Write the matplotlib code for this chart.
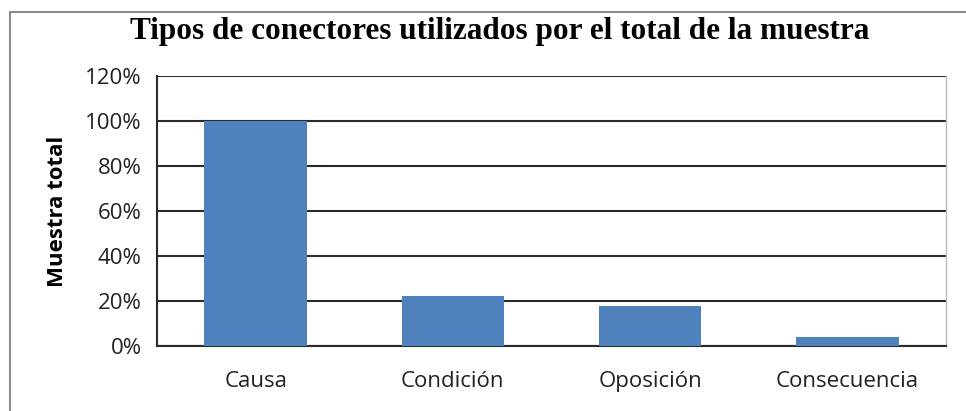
import matplotlib.pyplot as plt
from matplotlib.patches import Rectangle
from matplotlib.ticker import PercentFormatter

categorias = ['Causa', 'Condición', 'Oposición', 'Consecuencia']
porcentajes = [100, 22.3, 18.0, 4.2]
ticks_y = [0, 20, 40, 60, 80, 100, 120]

fig = plt.figure(figsize=(9.66, 4.11), dpi=100)

# marco gris exterior del grafico
fig.patches.append(Rectangle((10 / 966, -0.05), 1.0, 1 - 12 / 411 + 0.05,
                             transform=fig.transFigure, fill=False,
                             edgecolor='#8c8c8c', linewidth=1.5))

ax = fig.add_axes([157 / 966, 1 - 346 / 411, (946 - 157) / 966, (346 - 76) / 411])

x = range(len(categorias))
ax.bar(x, porcentajes, width=0.52, color='#4F81BD', zorder=3)

ax.set_xlim(-0.5, len(categorias) - 0.5)
ax.set_ylim(0, 120)
ax.set_yticks(ticks_y)
ax.yaxis.set_major_formatter(PercentFormatter(decimals=0))
ax.set_xticks(list(x))
ax.set_xticklabels(categorias, family='Open Sans', fontsize=16, color='#222222')
for lbl in ax.get_yticklabels():
    lbl.set_family('Open Sans')
    lbl.set_fontsize(16)
    lbl.set_color('#222222')
ax.tick_params(axis='y', length=0, pad=11)
ax.tick_params(axis='x', length=0, pad=18)

ax.grid(axis='y', color='#2b2b2b', linewidth=1.5, zorder=0)
for s in ['left', 'bottom']:
    ax.spines[s].set_color('#2b2b2b')
    ax.spines[s].set_linewidth(1.5)
ax.spines['top'].set_visible(False)
ax.spines['right'].set_color('#bbbbbb')
ax.spines['right'].set_linewidth(1)

ax.set_ylabel('Muestra total', family='Open Sans', fontweight='bold',
              fontsize=16, labelpad=12)

fig.text(500 / 966, 1 - 31 / 411, 'Tipos de conectores utilizados por el total de la muestra',
         family='Liberation Serif', fontweight='bold', fontsize=22.5,
         ha='center', va='center')

fig.savefig('out.png', dpi=100)
